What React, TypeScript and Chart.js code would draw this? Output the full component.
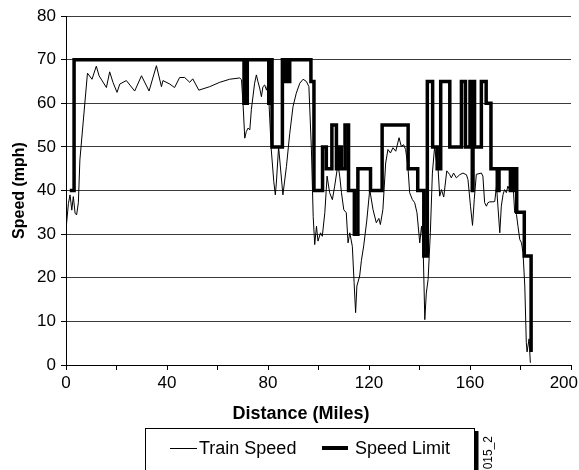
import React, { useEffect, useRef } from 'react';
import { Chart, registerables } from 'chart.js';

Chart.register(...registerables);

const FONT = '"Liberation Sans", Arial, Helvetica, sans-serif';

// Train speed (thin line): distance in miles, speed in mph
const trainMiles = [
  0.0, 0.1, 0.95, 1.6, 2.3, 2.9, 3.6, 4.2, 4.9, 5.5, 8.5, 10.3, 12.0, 13.1, 16.0, 17.3, 18.6, 20.2, 21.3, 23.9,
  27.2, 29.9, 32.9, 35.8, 37.8, 38.4, 41.1, 43.0, 45.0, 47.0, 49.0, 50.2, 52.6, 56.9, 60.9, 64.8, 68.8, 69.5, 70.1, 70.8,
  71.4, 72.1, 72.8, 73.4, 74.7, 75.4, 76.0, 76.7, 77.4, 78.0, 78.7, 79.4, 80.0, 81.3, 82.3, 82.9, 83.3, 84.2, 85.9, 87.3,
  88.6, 89.9, 91.2, 92.6, 93.9, 95.2, 96.2, 97.2, 97.9, 98.5, 99.2, 99.8, 100.8, 101.5, 102.5, 103.4, 104.4, 105.5, 106.4, 107.7,
  108.4, 109.1, 110.0, 111.0, 111.7, 112.4, 113.4, 114.1, 114.7, 115.2, 116.3, 117.0, 117.9, 119.1, 120.3, 121.6, 122.9, 123.9, 124.5, 125.5,
  126.6, 127.5, 128.5, 129.5, 130.6, 131.9, 132.8, 133.7, 134.5, 135.4, 136.1, 137.2, 138.1, 139.0, 140.1, 140.8, 141.4, 142.1, 142.7, 143.4,
  144.3, 145.1, 146.0, 146.6, 147.3, 148.0, 148.7, 149.6, 150.8, 151.9, 152.6, 153.5, 154.6, 155.9, 157.2, 158.6, 159.2, 160.2, 161.0, 161.7,
  162.5, 164.5, 165.1, 165.8, 166.5, 167.1, 167.8, 169.1, 169.8, 170.5, 171.8, 172.4, 173.1, 173.7, 174.4, 175.0, 175.7, 176.4, 177.0, 177.7,
  178.4, 179.0, 179.7, 180.4, 181.0, 181.7, 182.3, 182.6, 183.4, 183.9,
];
const trainMph = [
  0.5, 31.7, 37, 39, 35.5, 38.6, 34.8, 34.4, 37.2, 47, 66.9, 65.5, 68.5, 66.3, 63.6, 67.2, 64.8, 62.5, 64.4, 65.2,
  62.8, 66.3, 62.8, 68.6, 63.8, 65.2, 64.4, 63.6, 65.9, 65.9, 64.8, 65.6, 63.0, 63.8, 64.8, 65.5, 65.8, 65.4, 60, 52,
  53.5, 54.3, 53.9, 58.5, 64.6, 66.5, 65, 63.5, 61.5, 63.8, 64.2, 63, 64.6, 49.3, 42, 39, 41.7, 50, 39, 45.5,
  53, 59.2, 62.3, 64.6, 65.5, 65, 63.8, 49.3, 34, 27.6, 31.8, 28.4, 30.3, 29.5, 34.9, 43.3, 39.5, 37.9, 41, 46,
  43.3, 39.5, 35.6, 34.9, 28, 30.3, 27.2, 18.9, 12, 18.1, 20.4, 24, 27.3, 33, 40.2, 35.6, 32.6, 33.6, 32.2, 35.6,
  46.3, 49.4, 48.6, 49.8, 49, 52.1, 50.1, 50.5, 49.4, 45.6, 39.5, 37.9, 37.2, 34.9, 28, 31.8, 28, 10.4, 16.5, 19.6,
  30.3, 44, 50.1, 47, 45.6, 38.7, 40.2, 38.5, 44.5, 43.7, 42.9, 44, 42.9, 43.6, 44, 43.6, 42.5, 36.4, 32, 38,
  43.7, 44, 43.3, 37.2, 36.4, 37.2, 37.4, 37.4, 37.5, 41, 30.3, 36.4, 39.1, 40.2, 39.5, 41, 40, 41.8, 42, 34.9,
  34.5, 31.8, 28.8, 28, 25.7, 18.1, 5.1, 3, 6, 0.5,
];

// Speed limit (thick stepped line): mile where each limit starts, limit in mph
const limitMiles = [
  1.5, 3.2, 70.5, 71.8, 80.3, 80.9, 81.6, 85.7, 86.6, 87.4, 87.8, 88.6, 97.0, 98.2, 101.6, 103.1, 105.3, 107.1, 108.1, 109.0,
  110.5, 111.9, 114.2, 115.6, 120.6, 125.2, 135.5, 139.3, 141.7, 143.1, 145.2, 147.0, 148.4, 152.0, 156.6, 158.2, 160.0, 160.9, 161.2, 161.8,
  164.5, 166.4, 168.3, 170.8, 171.5, 176.0, 177.3, 178.5, 181.5, 184.2,
];
const limitMph = [
  40, 70, 60, 70, 60, 70, 50, 70, 65, 70, 65, 70, 65, 40, 50, 45, 55, 45, 50, 45,
  55, 40, 30, 45, 40, 55, 45, 40, 25, 65, 50, 45, 65, 50, 65, 50, 65, 40, 65, 50,
  65, 60, 45, 40, 45, 40, 45, 35, 25, 3,
];

const xTickValues = [0, 40, 80, 120, 160, 200];
const xTickLabels = ['0', '40', '80', '120', '160', '200'];
const seriesNames = ['Train Speed', 'Speed Limit'];
const xTitle = 'Distance (Miles)';
const yTitle = 'Speed (mph)';
const figureId = '1015_2';

const overlayPlugin = {
  id: 'overlayText',
  afterDraw(chart: any) {
    const ctx = chart.ctx as CanvasRenderingContext2D;
    const xs = chart.scales.x;
    ctx.save();
    ctx.fillStyle = '#000';
    ctx.strokeStyle = '#000';

    // x tick labels
    ctx.font = `17px ${FONT}`;
    ctx.textAlign = 'center';
    ctx.textBaseline = 'middle';
    xTickValues.forEach((v, i) => {
      const label = xTickLabels[i];
      const w = ctx.measureText(label).width;
      let px = xs.getPixelForValue(v);
      if (px + w / 2 > chart.width - 1) px = chart.width - 1 - w / 2;
      ctx.fillText(label, px, 383);
    });

    // x title
    ctx.font = `bold 18px ${FONT}`;
    ctx.fillText(xTitle, 301, 414);

    // legend box with shadow
    ctx.lineWidth = 1;
    ctx.strokeRect(145.5, 428.5, 329, 60);
    ctx.fillRect(475, 431, 3.5, 60);

    // legend samples
    ctx.beginPath();
    ctx.lineWidth = 1;
    ctx.moveTo(170, 448.5);
    ctx.lineTo(197, 448.5);
    ctx.stroke();
    ctx.beginPath();
    ctx.lineWidth = 4;
    ctx.moveTo(322, 448);
    ctx.lineTo(348, 448);
    ctx.stroke();

    ctx.font = `18px ${FONT}`;
    ctx.textAlign = 'left';
    ctx.fillText(seriesNames[0], 199, 449);
    ctx.fillText(seriesNames[1], 355, 449);

    // rotated figure id
    ctx.translate(489, 436);
    ctx.rotate(-Math.PI / 2);
    ctx.font = `12px ${FONT}`;
    ctx.textAlign = 'right';
    ctx.textBaseline = 'middle';
    ctx.fillText(figureId, 0, 0);

    ctx.restore();
  },
};

export default function App() {
  const canvasRef = useRef<HTMLCanvasElement | null>(null);

  useEffect(() => {
    if (!canvasRef.current) return;
    const chart = new Chart(canvasRef.current, {
      type: 'line',
      data: {
        datasets: [
          {
            label: seriesNames[0],
            data: trainMiles.map((x, i) => ({ x, y: trainMph[i] })),
            borderColor: '#000',
            backgroundColor: '#000',
            borderWidth: 1,
            pointRadius: 0,
            tension: 0,
            order: 1,
          },
          {
            label: seriesNames[1],
            data: limitMiles.map((x, i) => ({ x, y: limitMph[i] })),
            borderColor: '#000',
            backgroundColor: '#000',
            borderWidth: 3.5,
            pointRadius: 0,
            stepped: 'before',
            borderJoinStyle: 'miter',
            borderCapStyle: 'butt',
            order: 0,
          },
        ],
      },
      options: {
        animation: false,
        responsive: false,
        maintainAspectRatio: false,
        events: [],
        layout: { padding: { top: 16, right: 8, left: 0, bottom: 0 } },
        plugins: {
          legend: { display: false },
          tooltip: { enabled: false },
        },
        scales: {
          x: {
            type: 'linear',
            min: 0,
            max: 200,
            ticks: { display: false, stepSize: 20 },
            grid: {
              drawOnChartArea: false,
              drawTicks: true,
              tickLength: 5,
              color: '#000',
              tickColor: '#000',
            },
            border: { display: true, color: '#000', width: 1 },
            afterFit: (s: any) => {
              s.height = 105;
            },
          },
          y: {
            type: 'linear',
            min: 0,
            max: 80,
            ticks: {
              stepSize: 10,
              color: '#000',
              padding: 5,
              font: { size: 17, family: FONT },
            },
            grid: {
              color: '#3a3a3a',
              lineWidth: 1,
              tickLength: 5,
              tickColor: '#000',
            },
            border: { display: true, color: '#000', width: 1 },
            title: {
              display: true,
              text: yTitle,
              color: '#000',
              font: { size: 16, weight: 'bold', family: FONT },
              padding: { top: 10, bottom: 0 },
            },
            afterFit: (s: any) => {
              s.width = 66;
            },
          },
        },
      },
      plugins: [overlayPlugin],
    } as any);
    return () => chart.destroy();
  }, []);

  return (
    <div style={{ position: 'absolute', left: 0, top: 0, width: 579, height: 470, background: '#fff' }}>
      <canvas ref={canvasRef} width={579} height={470} style={{ display: 'block' }} />
    </div>
  );
}
